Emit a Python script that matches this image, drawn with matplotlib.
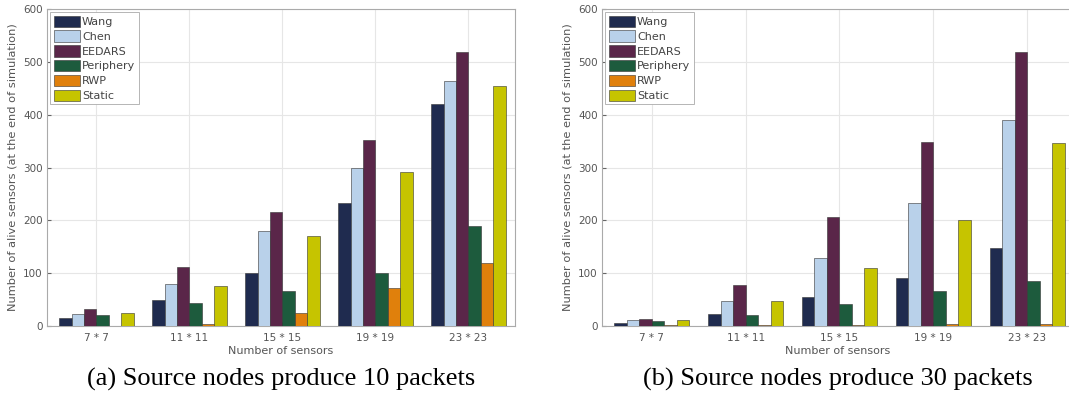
import numpy as np
from matplotlib import pyplot as plt

groups = ["7 * 7", "11 * 11", "15 * 15", "19 * 19", "23 * 23"]
methods = ["Wang", "Chen", "EEDARS", "Periphery", "RWP", "Static"]
colors = ["#1f2b4f", "#b9d1ea", "#5a2649", "#1d5b3d", "#e0800c", "#c6c400"]

# alive sensors, source nodes produce 10 packets
wang_10 = [15, 50, 101, 233, 420]
chen_10 = [23, 79, 179, 300, 463]
eedars_10 = [32, 111, 216, 352, 518]
periphery_10 = [20, 43, 67, 101, 189]
rwp_10 = [0, 3, 24, 72, 119]
static_10 = [24, 76, 170, 292, 455]

# alive sensors, source nodes produce 30 packets
wang_30 = [5, 22, 54, 91, 148]
chen_30 = [11, 48, 128, 233, 390]
eedars_30 = [13, 77, 206, 348, 519]
periphery_30 = [9, 20, 42, 67, 86]
rwp_30 = [1, 1, 2, 3, 3]
static_30 = [11, 47, 109, 201, 346]

captions = ["(a) Source nodes produce 10 packets",
            "(b) Source nodes produce 30 packets"]


def draw_panel(ax, series, caption):
    x = np.arange(1, len(groups) + 1)
    w = 0.8 / len(series)
    for i, (vals, name, c) in enumerate(zip(series, methods, colors)):
        ax.bar(x - 0.4 + w * (i + 0.5), vals, w, color=c, label=name,
               edgecolor="#333333", linewidth=0.4, zorder=3)
    ax.set_xlim(0.47, 5.5)
    ax.set_ylim(0, 600)
    ax.set_xticks(x)
    ax.set_xticklabels(groups)
    ax.set_yticks(range(0, 601, 100))
    ax.grid(True, color="#e6e6e6", linewidth=0.8, zorder=0)
    ax.tick_params(direction="in", length=3, labelsize=7.5, colors="#666666",
                   labelcolor="#555555", pad=3)
    ax.tick_params(axis="x", pad=5)
    for s in ax.spines.values():
        s.set_color("#aaaaaa")
        s.set_linewidth(0.8)
    ax.set_xlabel("Number of sensors", fontsize=8, color="#555555", labelpad=2)
    ax.set_ylabel("Number of alive sensors (at the end of simulation)",
                  fontsize=8.2, color="#555555", labelpad=4)
    leg = ax.legend(loc="upper left", fontsize=8, handlelength=2.4,
                    handleheight=1.2, labelspacing=0.3, borderpad=0.3,
                    handletextpad=0.15, fancybox=False, framealpha=1,
                    borderaxespad=0.3)
    leg.get_frame().set_edgecolor("#aaaaaa")
    leg.get_frame().set_linewidth(0.6)
    for t in leg.get_texts():
        t.set_color("#444444")
    ax.text(0.5, -0.17, caption, transform=ax.transAxes, ha="center",
            va="center", fontsize=19, family="Liberation Serif", color="black")


fig = plt.figure(figsize=(10.69, 4.03), dpi=100)
W, H = 1069, 403
ax1 = fig.add_axes([47 / W, 1 - 326 / H, (515 - 47) / W, (326 - 9) / H])
ax2 = fig.add_axes([602 / W, 1 - 326 / H, (1074 - 602) / W, (326 - 9) / H])

draw_panel(ax1, [wang_10, chen_10, eedars_10, periphery_10, rwp_10, static_10],
           captions[0])
draw_panel(ax2, [wang_30, chen_30, eedars_30, periphery_30, rwp_30, static_30],
           captions[1])

fig.savefig("out.png", dpi=100)
